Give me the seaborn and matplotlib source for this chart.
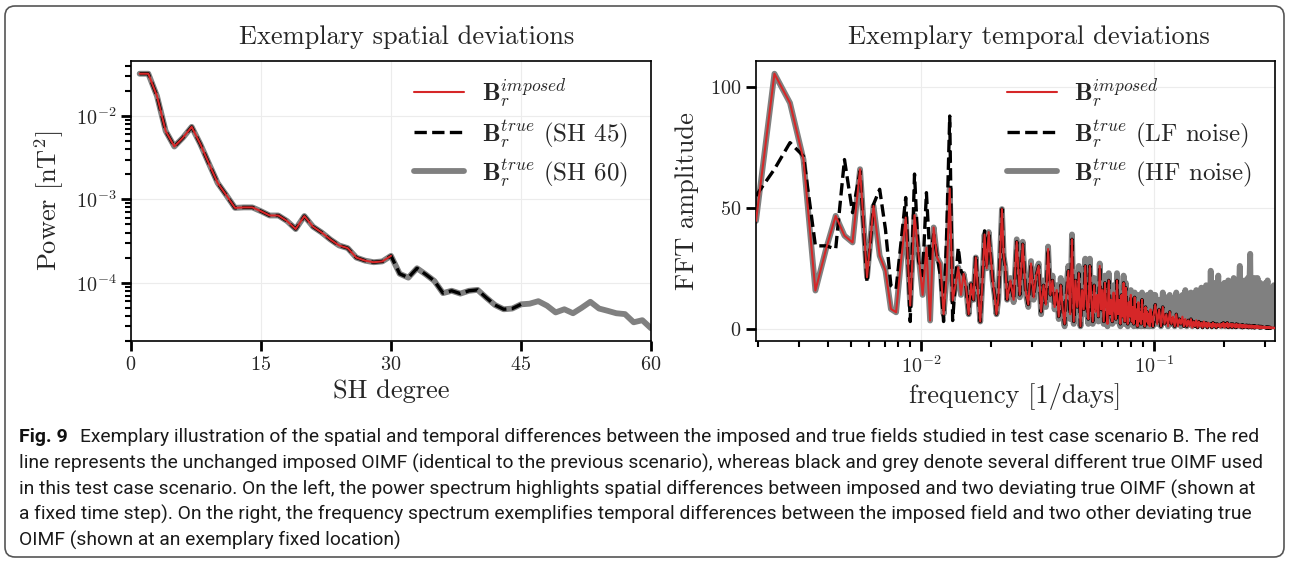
import numpy as np
import seaborn as sns
import matplotlib.pyplot as plt
from matplotlib.patches import FancyBboxPatch
from matplotlib.transforms import IdentityTransform

# ==============================
# DATA - spatial (power spectrum per SH degree)
# ==============================
sh_degree = np.arange(1, 61)
power_sh60 = [0.0321, 0.0321, 0.0173, 0.0066, 0.0043, 0.0055, 0.0074, 0.0046, 0.00267, 0.00157,
              0.00112, 0.00079, 0.00080, 0.00080, 0.00072, 0.00064, 0.00064, 0.00055, 0.00044, 0.00063,
              0.00047, 0.00040, 0.00033, 0.00028, 0.00026, 0.00020, 0.000184, 0.000176, 0.00018, 0.00021,
              0.000128, 0.000115, 0.000149, 0.000126, 0.000105, 7.5e-5, 8.0e-5, 7.4e-5, 8.0e-5, 8.2e-5,
              6.6e-5, 5.4e-5, 4.8e-5, 4.9e-5, 5.5e-5, 5.6e-5, 6.0e-5, 5.3e-5, 4.4e-5, 4.8e-5,
              4.3e-5, 5.0e-5, 5.9e-5, 4.9e-5, 4.6e-5, 4.3e-5, 4.2e-5, 3.35e-5, 3.55e-5, 2.84e-5]
n_imposed = 30   # imposed field truncated at SH 30
n_sh45 = 45

# ==============================
# DATA - temporal (FFT amplitude)
# ==============================
df_days = 1 / 2560   # frequency resolution [1/days]

# bins 5..60 (every bin)
imposed_low = [44.6, 105.5, 93.4, 70.0, 15.8, 33.0, 46.7, 38.5, 35.7, 66.0,
               21.3, 50.8, 30.2, 24.1, 8.2, 6.8, 28.0, 46.0, 9.6, 47.0,
               30.0, 14.0, 33.6, 3.4, 41.9, 29.5, 26.8, 6.0, 22.0, 58.0,
               11.7, 18.0, 25.4, 14.0, 22.7, 17.0, 6.0, 18.5, 12.0, 29.5,
               15.0, 3.0, 20.0, 39.0, 25.0, 40.0, 30.0, 20.0, 14.0, 6.0,
               12.0, 30.0, 49.5, 30.0, 25.0, 12.0]
lf_low = [55.0, 66.0, 77.0, 71.4, 34.3, 34.3, 33.0, 70.0, 48.0, 65.2,
          19.2, 51.5, 57.7, 41.2, 17.8, 16.4, 36.0, 54.3, 3.0, 64.0,
          28.0, 22.0, 56.3, 28.0, 39.0, 30.0, 22.0, 3.0, 40.0, 88.0,
          3.4, 20.0, 33.6, 24.0, 22.0, 17.0, 6.0, 18.5, 12.0, 30.5,
          15.0, 3.0, 21.0, 40.5, 25.0, 40.0, 30.0, 20.0, 14.0, 6.0,
          12.0, 30.0, 49.5, 30.0, 25.0, 12.0]

# bins 62..256 (every 2nd bin)
imposed_mid = [20, 12, 36, 14, 35, 16, 10, 27, 13, 22,
               26, 7, 18, 10, 33, 14, 20, 9, 16, 5,
               18, 8, 2, 15, 24, 6, 37, 3, 20, 9,
               23, 1, 16, 8, 26, 10, 4, 26, 12, 3,
               18, 7, 14, 5, 26, 8, 16, 3, 19, 9,
               2, 20, 6, 12, 3, 15, 8, 4, 20, 6,
               12, 2, 14, 5, 19, 3, 17, 7, 2, 11,
               5, 14, 3, 9, 2, 13, 4, 8, 1, 11,
               3, 7, 2, 12, 4, 6, 1, 9, 3, 7,
               2, 6, 1, 8, 3, 5, 1, 6]
hf_mid = [21, 11, 37, 13, 36, 15, 9, 28, 12, 24,
          27, 6, 20, 9, 34, 12, 22, 8, 18, 4,
          21, 6, 1, 18, 26, 4, 39, 2, 23, 7,
          26, 1, 19, 6, 29, 8, 2, 29, 10, 2,
          21, 5, 18, 3, 27, 6, 20, 2, 22, 7,
          1, 23, 4, 16, 2, 18, 6, 3, 23, 4,
          16, 1, 17, 3, 22, 2, 19, 5, 1, 15,
          3, 16, 2, 13, 1, 15, 3, 12, 1, 14,
          2, 11, 1, 15, 3, 12, 1, 13, 2, 14,
          1, 12, 1, 15, 2, 13, 1, 14]

# bins 260..850 (every 5th bin)
imposed_high = [10, 2, 8, 1, 9, 2, 6, 1, 7, 2,
                5, 1, 6, 1, 4, 2, 5, 1, 4, 1,
                3.5, 1, 4, 0.5, 3, 1, 3.5, 0.5, 3, 1,
                2.5, 0.5, 3, 1, 2.5, 0.5, 2.5, 1, 2, 0.5,
                2.5, 1, 2, 0.5, 2, 1, 2, 0.5, 2, 1,
                2.5, 0.5, 2, 1, 2.5, 0.5, 2, 1, 2, 0.5,
                2, 1, 1.8, 0.5, 2, 0.8, 1.8, 0.5, 1.8, 0.8,
                1.6, 0.4, 1.6, 0.6, 1.5, 0.4, 1.5, 0.6, 1.4, 0.4,
                1.4, 0.5, 1.3, 0.4, 1.3, 0.5, 1.2, 0.3, 1.2, 0.5,
                1.1, 0.3, 1.1, 0.4, 1.0, 0.3, 1.0, 0.4, 0.9, 0.3,
                0.9, 0.3, 0.8, 0.3, 0.8, 0.2, 0.7, 0.3, 0.7, 0.2,
                0.6, 0.2, 0.6, 0.2, 0.5, 0.2, 0.5, 0.2, 0.4]
hf_high = [14, 2, 12, 1, 15, 3, 13, 1, 14, 2,
           12, 1, 15, 3, 13, 1, 14, 2, 16, 1,
           13, 3, 15, 1, 14, 2, 16, 1, 15, 3,
           17, 1, 15, 2, 18, 1, 16, 3, 24, 1,
           17, 2, 19, 1, 16, 22, 2, 18, 1, 17,
           3, 19, 1, 16, 2, 20, 1, 18, 3, 17,
           1, 21, 2, 18, 1, 20, 3, 17, 26, 1,
           19, 2, 18, 1, 20, 3, 18, 1, 21, 2,
           19, 31, 1, 20, 2, 18, 1, 21, 3, 19,
           1, 21, 2, 18, 1, 19, 3, 17, 1, 18,
           2, 16, 1, 19, 2, 17, 20, 1, 17, 2,
           16, 1, 17, 2, 15, 1, 18, 2, 13]

fft_bins = np.r_[5 + np.arange(len(imposed_low)),
                 62 + 2 * np.arange(len(imposed_mid)),
                 260 + 5 * np.arange(len(imposed_high))]
freq = fft_bins * df_days
amp_imposed = np.r_[imposed_low, imposed_mid, imposed_high]
amp_lf = np.r_[lf_low, imposed_mid, imposed_high]
amp_hf = np.r_[imposed_low, hf_mid, hf_high]

caption_bold = "Fig. 9"
caption_lines = [
    "Exemplary illustration of the spatial and temporal differences between the imposed and true fields studied in test case scenario B. The red",
    "line represents the unchanged imposed OIMF (identical to the previous scenario), whereas black and grey denote several different true OIMF used",
    "in this test case scenario. On the left, the power spectrum highlights spatial differences between imposed and two deviating true OIMF (shown at",
    "a fixed time step). On the right, the frequency spectrum exemplifies temporal differences between the imposed field and two other deviating true",
    "OIMF (shown at an exemplary fixed location)",
]

# ==============================
# STYLE
# ==============================
sns.set_theme(style="ticks", rc={"axes.grid": True, "grid.color": "#ececec", "grid.linewidth": 0.8,
                                 "axes.edgecolor": "black", "axes.linewidth": 1.2})
plt.rcParams["font.family"] = "cmr10"
plt.rcParams["mathtext.fontset"] = "cm"
plt.rcParams["axes.formatter.use_mathtext"] = True

RED = "#d62728"
GREY = "#808080"
W, H = 1290, 562

fig = plt.figure(figsize=(W / 100, H / 100), dpi=100)
ax1 = fig.add_axes([131 / W, 1 - 341 / H, 520 / W, 280 / H])
ax2 = fig.add_axes([756 / W, 1 - 341 / H, 519 / W, 280 / H])

lab_imp = r"$\mathbf{B}_r^{imposed}$"
lab_true = r"$\mathbf{B}_r^{true}$"

# ==============================
# LEFT: spatial deviations
# ==============================
sns.lineplot(x=sh_degree[:n_imposed], y=power_sh60[:n_imposed], ax=ax1, color=RED, lw=1.5,
             zorder=4, label=lab_imp)
sns.lineplot(x=sh_degree[:n_sh45], y=power_sh60[:n_sh45], ax=ax1, color="black", lw=2.4,
             linestyle="--", zorder=3, label=lab_true + " (SH 45)")
sns.lineplot(x=sh_degree, y=power_sh60, ax=ax1, color=GREY, lw=4.2, zorder=2,
             label=lab_true + " (SH 60)")
ax1.set_yscale("log")
ax1.set_xlim(0, 60)
ax1.set_xticks([0, 15, 30, 45, 60])
ax1.set_xlabel("SH degree", fontsize=19)
ax1.set_ylabel(r"Power [nT$^2$]", fontsize=19, labelpad=7)

# ==============================
# RIGHT: temporal deviations
# ==============================
sns.lineplot(x=freq, y=amp_imposed, ax=ax2, color=RED, lw=1.5, zorder=4, label=lab_imp)
sns.lineplot(x=freq, y=amp_lf, ax=ax2, color="black", lw=2.4, linestyle="--", zorder=3,
             label=lab_true + " (LF noise)")
sns.lineplot(x=freq, y=amp_hf, ax=ax2, color=GREY, lw=4.2, zorder=2,
             label=lab_true + " (HF noise)")
ax2.set_xscale("log")
ax2.set_xlim(freq[0], freq[-1])
ax2.set_yticks([0, 50, 100])
ax2.set_xlabel("frequency [1/days]", fontsize=19)
ax2.set_ylabel("FFT amplitude", fontsize=19, labelpad=8)

for ax in (ax1, ax2):
    for s in ax.spines.values():
        s.set_visible(True)
        s.set_color("black")
    ax.tick_params(which="major", length=7, width=2, labelsize=14.5, color="black")
    ax.tick_params(which="minor", length=4, width=1.5, color="black")
    ax.grid(True, which="major", color="#ececec", lw=0.8)
    ax.grid(False, which="minor")
    ax.legend(loc="upper right", bbox_to_anchor=(0.975, 0.98), borderaxespad=0, frameon=False,
              fontsize=18, handlelength=2.0, labelspacing=0.3, handletextpad=0.7)

fig.text(407 / W, 1 - 37 / H, "Exemplary spatial deviations", fontsize=19, ha="center", va="center")
fig.text(1029 / W, 1 - 37 / H, "Exemplary temporal deviations", fontsize=19, ha="center", va="center")

# ==============================
# CAPTION + BORDER
# ==============================
cap_font = ["Liberation Sans Narrow", "Roboto"]
fig.text(19 / W, 1 - 437 / H, caption_bold, fontsize=14, fontweight="bold", family=cap_font,
         ha="left", va="center", color="#111111")
line_y = [437, 463, 489, 514, 540]
for i, (txt, y) in enumerate(zip(caption_lines, line_y)):
    x0 = 80 if i == 0 else 19
    fig.text(x0 / W, 1 - y / H, txt, fontsize=13.9, family=cap_font, ha="left", va="center",
             color="#1a1a1a")

border = FancyBboxPatch((5, H - 557), 1279, 551, boxstyle="round,pad=0,rounding_size=10",
                        transform=IdentityTransform(), fill=False, ec="#555555", lw=1.2)
fig.add_artist(border)

fig.savefig("out.png", dpi=100)
